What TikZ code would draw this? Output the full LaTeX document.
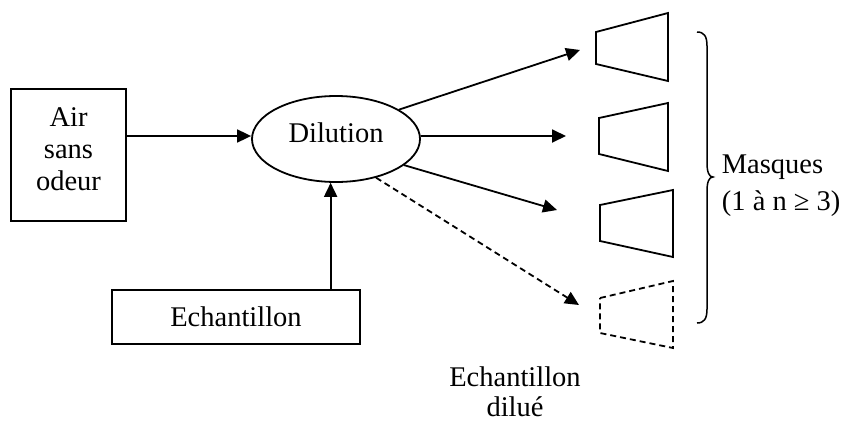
\documentclass[tikz,border=0pt]{standalone}
\usepackage{fontspec}
\setmainfont{Liberation Serif}
\usetikzlibrary{arrows.meta,shapes.geometric}
\begin{document}
\begin{tikzpicture}[x=1pt,y=-1pt,
  line width=1.8pt,
  every node/.style={font=\fontsize{28.5}{32}\selectfont},
  box/.style={draw,rectangle,inner sep=0pt},
  arr/.style={-{Triangle[length=14pt,width=13pt]}},
  dsh/.style={dash pattern=on 6pt off 4pt},
  lbl/.style={inner sep=0pt,align=center}]
\useasboundingbox (0,0) rectangle (842,423);

% boxes
\node[box,minimum width=115pt,minimum height=132pt] (air) at (68.5,155) {};
\node[lbl] (airtext) at (68.5,149) {Air\\sans\\odeur};
\node[draw,ellipse,inner sep=0pt,minimum width=168pt,minimum height=86pt] (dil) at (336,139) {};
\node[lbl] (diltext) at (336,133) {Dilution};
\node[box,minimum width=248pt,minimum height=54pt] (ech) at (236,317) {Echantillon};

% arrow targets
\coordinate (t1) at (580,50);
\coordinate (t2) at (566,136);
\coordinate (t3) at (557,210);
\coordinate (t4) at (579,305);

% connectors
\draw[arr] (air.east |- 0,136) -- (dil.west |- 0,136);
\draw[arr] (ech.north -| dil.263) -- (dil.263);
\draw[arr] (dil.25) -- (t1);
\draw[arr] (dil.2) -- (t2);
\draw[arr] (dil.-21) -- (t3);
\draw[arr,dsh] (dil.-44) -- (t4);

% masks
\draw (596,32) -- (668,13) -- (668,81) -- (596,64) -- cycle;
\draw (599,118) -- (668,103) -- (668,171) -- (599,154) -- cycle;
\draw (600,205) -- (673,190) -- (673,257) -- (600,241) -- cycle;
\draw[dsh] (600,298) -- (673,281) -- (673,348) -- (600,333) -- cycle;

% brace
\draw[line width=1.5pt] (697,32) .. controls (704,32) and (707,36) .. (707,46) -- (707,163)
  .. controls (707,172) and (709,177) .. (713,177)
  .. controls (709,177) and (707,182) .. (707,191) -- (707,309)
  .. controls (707,319) and (704,323) .. (697,323);

% labels
\node[lbl,anchor=west,align=left] (masq) at (721,186) {Masques\\[5pt](1 à n ≥ 3)};
\node[lbl,font=\fontsize{28.5}{30}\selectfont] (dilue) at (515,392) {Echantillon\\dilué};
\end{tikzpicture}
\end{document}
